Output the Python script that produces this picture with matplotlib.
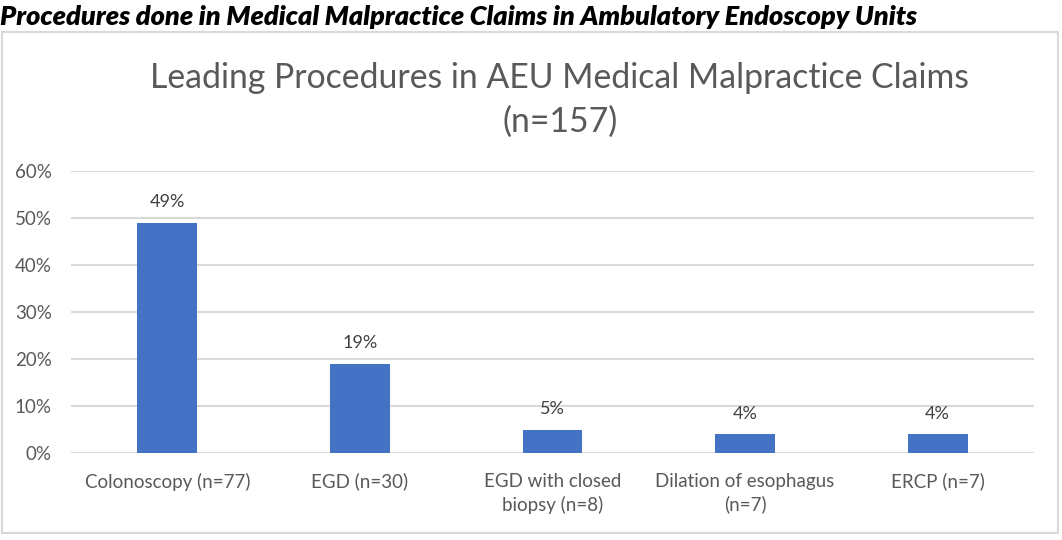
import numpy as np
import matplotlib.pyplot as plt
from matplotlib.patches import Rectangle

procedures = ['Colonoscopy (n=77)', 'EGD (n=30)', 'EGD with closed\nbiopsy (n=8)',
              'Dilation of esophagus\n(n=7)', 'ERCP (n=7)']
shares = [0.49, 0.19, 0.05, 0.04, 0.04]
share_labels = ['49%', '19%', '5%', '4%', '4%']
yticks = [0, 0.1, 0.2, 0.3, 0.4, 0.5, 0.6]
ytick_labels = ['0%', '10%', '20%', '30%', '40%', '50%', '60%']

plt.rcParams['font.family'] = ['Lato', 'DejaVu Sans']

fig = plt.figure(figsize=(10.62, 5.40), dpi=100)
fig.patch.set_facecolor('white')

# chart area border
fig.patches.append(Rectangle((0.0019, 0.013), 0.9944, 0.928, transform=fig.transFigure,
                             fill=False, edgecolor='#d9d9d9', linewidth=1.5))

fig.text(0.0, 0.968, 'Procedures done in Medical Malpractice Claims in Ambulatory Endoscopy Units',
         fontsize=19.5, fontweight='heavy', fontstyle='italic', color='black',
         ha='left', va='center')

fig.text(0.527, 0.8145, 'Leading Procedures in AEU Medical Malpractice Claims\n(n=157)',
         fontsize=24.3, color='#595959', ha='center', va='center', linespacing=1.45)

ax = fig.add_axes([0.0669, 0.161, 0.9067, 0.522])
x = np.arange(len(procedures))
bars = ax.bar(x, shares, width=0.31, color='#4472C4', zorder=3)
for b, lab in zip(bars, share_labels):
    ax.annotate(lab, (b.get_x() + b.get_width() / 2, b.get_height()),
                xytext=(0, 9), textcoords='offset points', ha='center', va='bottom',
                fontsize=13, color='#404040')

ax.set_xlim(-0.5, len(procedures) - 0.5)
ax.set_ylim(0, 0.6)
ax.set_yticks(yticks)
ax.set_yticklabels(ytick_labels, fontsize=13.5, color='#595959')
ax.set_xticks(x)
ax.set_xticklabels(procedures, fontsize=13.5, color='#595959', linespacing=1.4, va='top')
ax.tick_params(axis='both', length=0)
ax.tick_params(axis='y', pad=14)
ax.tick_params(axis='x', pad=14)
ax.grid(axis='y', color='#d9d9d9', linewidth=1.5, zorder=0)
for s in ax.spines.values():
    s.set_visible(False)

fig.savefig('out.png', dpi=100)
